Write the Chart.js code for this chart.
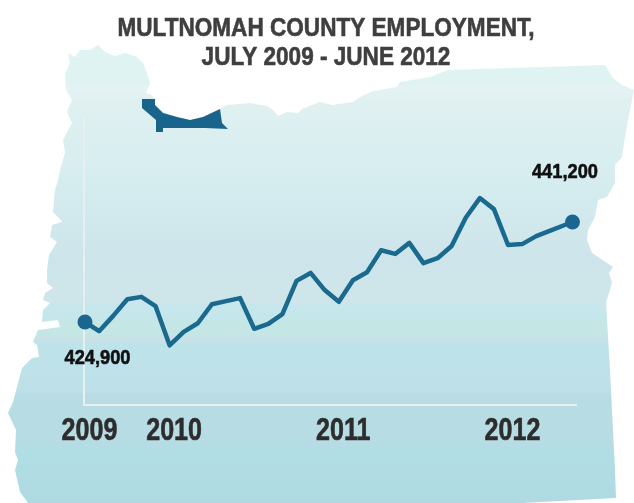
<!DOCTYPE html>
<html>
<head>
<meta charset="utf-8">
<title>Multnomah County Employment</title>
<script src="https://cdn.jsdelivr.net/npm/chart.js@4/dist/chart.umd.min.js"></script>
<style>
  html, body { margin: 0; padding: 0; background: #fff; }
  canvas { display: block; }
</style>
</head>
<body>
<canvas id="employmentChart" width="634" height="503"></canvas>
<script>
// Data
const titleLines = ['MULTNOMAH COUNTY EMPLOYMENT,', 'JULY 2009 - JUNE 2012'];
const months = [0, 1, 2, 3, 4, 5, 6, 7, 8, 9, 10, 11, 12, 13, 14, 15, 16, 17, 18, 19, 20, 21, 22, 23, 24, 25, 26, 27, 28, 29, 30, 31, 32, 33, 34.57];
const employment = [424900, 423400, 425900, 428600, 429000, 427500, 421100, 423300, 424700, 427800, 428300, 428800, 423800, 424600, 426200, 431600, 432900, 430100, 428200, 431700, 433000, 436600, 436000, 437800, 434500, 435300, 437300, 441900, 445100, 443300, 437450, 437600, 438900, 439800, 441200];
const yearTicks = [0, 6, 18, 30];
const yearLabels = ['2009', '2010', '2011', '2012'];

// Map of Oregon behind the chart, in canvas pixels
const oregonOutline = [[68,53],[75,57],[80,50],[90,50],[98,45],[105,52],[115,56],[125,53],[137,57],[143,63],[147,73],[150,83],[146,93],[152,95],[154,99],[155,105],[163,112],[177,117],[190,120],[203,117],[220,109],[227,105],[250,103],[267,106],[273,110],[278,116],[287,112],[298,113],[302,109],[320,102],[332,105],[353,102],[360,97],[373,91],[397,87],[400,82],[430,77],[448,70],[605,65],[613,78],[622,85],[634,90],[628,120],[625,137],[622,157],[615,165],[615,183],[607,197],[598,200],[595,217],[588,230],[587,240],[592,253],[613,267],[609,273],[612,282],[609,293],[606,302],[610,370],[615,470],[616,498],[523,503],[28,503],[20,492],[15,470],[18,460],[15,452],[16,430],[8,413],[13,402],[22,368],[32,358],[39,357],[37,345],[33,342],[38,330],[60,327],[58,320],[42,322],[43,310],[50,303],[43,300],[45,293],[53,288],[47,283],[47,270],[49,255],[57,242],[50,237],[52,225],[62,222],[58,217],[53,212],[55,190],[58,180],[60,170],[65,153],[63,140],[72,123],[67,112],[72,100],[66,90],[65,73],[70,63]];
const countyOutline = [[142,99],[155,99],[155,105],[163,113],[177,117],[190,120],[203,117],[220,109],[222,123],[228,129],[205,128],[163,128],[163,132],[156,132],[156,120],[142,108]];
const bandStops = [[45,'#e0f3f3'],[85,'#e0f3f3'],[88,'#e6f2f5'],[100,'#e0f0f0'],[165,'#d8eef0'],[200,'#d3ebee'],[260,'#cde5ea'],[302,'#cfe5ea'],[305,'#c5e7ed'],[318,'#c5e6ea'],[322,'#c4e6e5'],[335,'#c4e6e5'],[338,'#c8e0e6'],[341,'#c8e0e6'],[342,'#bfe3ea'],[392,'#bde0e8'],[395,'#b7dce5'],[440,'#b8dce4'],[450,'#b1dde4'],[503,'#afdae2']];

const FONT = '"Liberation Sans", sans-serif';

function tracePolygon(ctx, pts) {
    ctx.beginPath();
    pts.forEach((p, i) => i ? ctx.lineTo(p[0], p[1]) : ctx.moveTo(p[0], p[1]));
    ctx.closePath();
}

// No condensed font is installed, so squeeze the text sideways
// and stroke it a little to get the heavier weight back
function narrowText(ctx, text, x, y, squeeze) {
    ctx.save();
    ctx.translate(x, y);
    ctx.scale(squeeze, 1);
    ctx.fillText(text, 0, 0);
    ctx.strokeStyle = ctx.fillStyle;
    ctx.lineWidth = 0.6;
    ctx.strokeText(text, 0, 0);
    ctx.restore();
}

// Draws the state shape under everything else
const mapBackground = {
    id: 'mapBackground',
    beforeDraw(chart) {
        const ctx = chart.ctx;
        const grad = ctx.createLinearGradient(0, 0, 0, 503);
        bandStops.forEach(s => grad.addColorStop(s[0] / 503, s[1]));
        ctx.save();
        ctx.fillStyle = '#ffffff';
        ctx.fillRect(0, 0, chart.width, chart.height);
        tracePolygon(ctx, oregonOutline);
        ctx.fillStyle = grad;
        ctx.fill();
        tracePolygon(ctx, countyOutline);
        ctx.fillStyle = '#19648c';
        ctx.fill();
        ctx.restore();
    }
};

// Title, year labels and the first and last value
const chartText = {
    id: 'chartText',
    afterDatasetsDraw(chart) {
        const ctx = chart.ctx;
        const pts = chart.getDatasetMeta(0).data;
        const last = pts.length - 1;
        const xScale = chart.scales.x;
        ctx.save();
        ctx.textAlign = 'center';
        ctx.textBaseline = 'alphabetic';

        ctx.font = 'bold 25.5px ' + FONT;
        ctx.fillStyle = '#3f3f3f';
        narrowText(ctx, titleLines[0], 326, 36, 0.885);
        narrowText(ctx, titleLines[1], 326, 65, 0.885);

        ctx.font = 'bold 31px ' + FONT;
        ctx.fillStyle = '#2d2d2d';
        yearTicks.forEach((t, i) => {
            narrowText(ctx, yearLabels[i], xScale.getPixelForValue(t) + 4.5, 440, 0.81);
        });

        ctx.font = 'bold 21px ' + FONT;
        ctx.fillStyle = '#111111';
        narrowText(ctx, employment[0].toLocaleString('en-US'), pts[0].x + 12.5, pts[0].y + 42, 0.87);
        narrowText(ctx, employment[last].toLocaleString('en-US'), pts[last].x - 7.5, pts[last].y - 44, 0.87);
        ctx.restore();
    }
};

new Chart(document.getElementById('employmentChart').getContext('2d'), {
    type: 'line',
    data: {
        labels: months,
        datasets: [{
            data: months.map((m, i) => ({ x: m, y: employment[i] })),
            borderColor: '#1a6a90',
            backgroundColor: '#1a6690',
            borderWidth: 4.5,
            borderJoinStyle: 'round',
            tension: 0,
            clip: false,
            pointRadius: ctx => (ctx.dataIndex === 0 || ctx.dataIndex === months.length - 1) ? 7.5 : 0,
            pointBorderWidth: 0
        }]
    },
    options: {
        responsive: false,
        animation: false,
        layout: { padding: { left: 18, right: 58, top: 117 } },
        scales: {
            x: {
                type: 'linear',
                min: -0.07,
                max: 34.82,
                grid: { display: false },
                border: { color: '#e9eff1', width: 2 },
                afterBuildTicks: scale => { scale.ticks = yearTicks.map(v => ({ value: v })); },
                afterFit: scale => { scale.height = 98; },
                ticks: { display: false }
            },
            y: {
                min: 411370,
                max: 458320,
                grid: { display: false },
                border: { color: '#e9eff1', width: 2 },
                afterFit: scale => { scale.width = 66; },
                ticks: { display: false }
            }
        },
        plugins: {
            legend: { display: false },
            tooltip: { enabled: false },
            title: { display: false }
        }
    },
    plugins: [mapBackground, chartText]
});
</script>
</body>
</html>
